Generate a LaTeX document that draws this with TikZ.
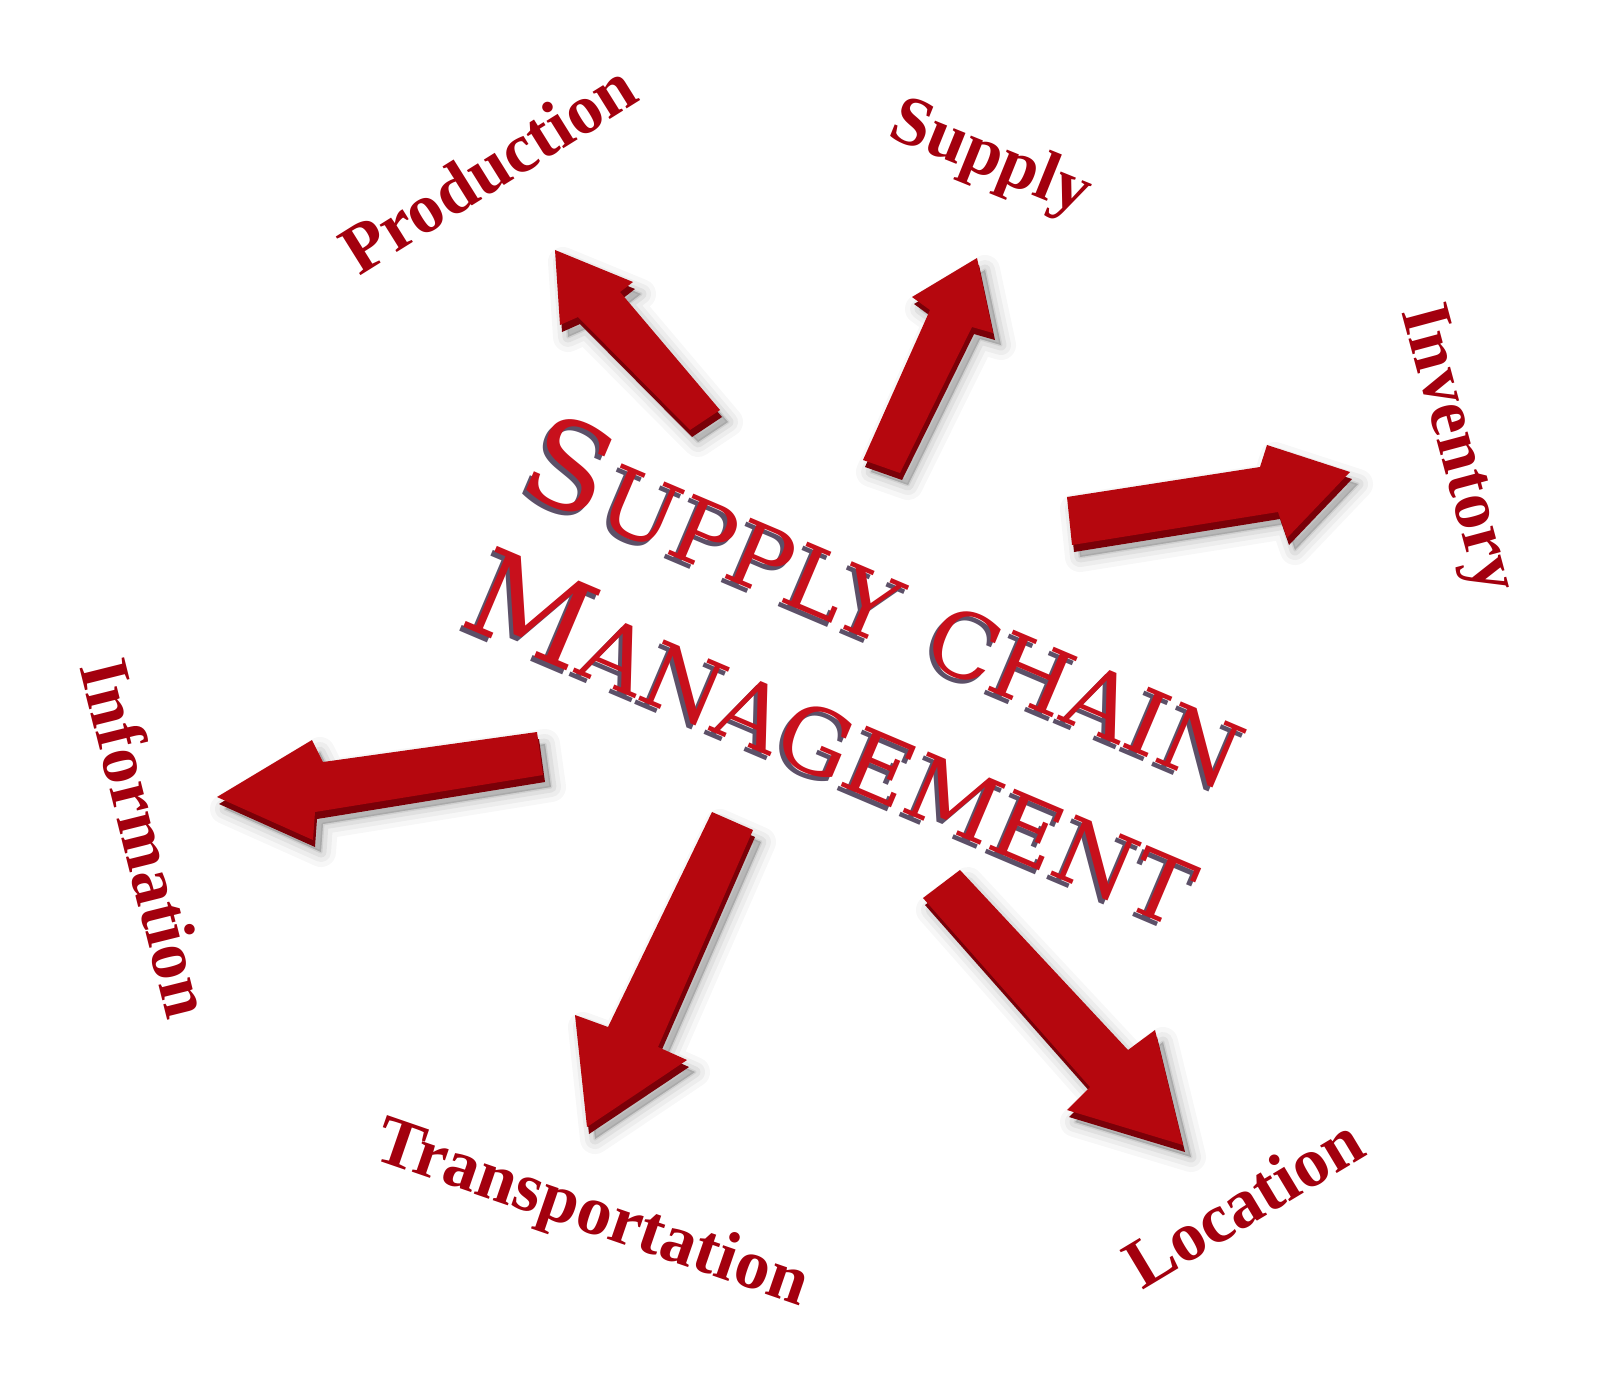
\documentclass[tikz,border=0pt]{standalone}
\usepackage{fontspec}
\setmainfont{Liberation Serif}
\newfontfamily\copperfont{DejaVu Serif}
\definecolor{arrowtop}{HTML}{B5070E}
\definecolor{arrowside}{HTML}{7A0008}
\definecolor{labelred}{HTML}{A3000E}
\definecolor{titlered}{HTML}{C8101C}
\definecolor{titleshadow}{HTML}{5C5068}
\newcommand{\redarrow}[7]{%
  \foreach \lw/\op in {30/0.03,20/0.04,11/0.05,3/0.07}{%
    \filldraw[black,opacity=\op,line width=\lw pt,line join=round,shift={(8,12)}] #1--#2--#3--#4--#5--#6--#7--cycle;}
  \fill[arrowside,shift={(2,7)}] #1--#2--#3--#4--#5--#6--#7--cycle;
  \fill[arrowtop] #1--#2--#3--#4--#5--#6--#7--cycle;
}
\newcommand{\scmtitle}{{\fontsize{120}{146}\selectfont S}UPPLY\hspace{38pt}CHAIN\\{\fontsize{120}{146}\selectfont M}ANAGEMENT}
\tikzset{
  lab/.style={text=labelred,font=\bfseries\fontsize{70}{70}\selectfont,inner sep=0pt},
  titlebox/.style={font=\copperfont\fontsize{90}{146}\selectfont,align=left,inner sep=0pt,transform shape}
}
\begin{document}
\begin{tikzpicture}[x=1pt,y=-1pt]
\useasboundingbox (0,0) rectangle (1600,1377);
\fill[white] (0,0) rectangle (1600,1377);
% arrows
\redarrow{(690,430)}{(578,317)}{(560,325)}{(555,250)}{(633,282)}{(620,292)}{(720,410)}
\redarrow{(863,460)}{(930,310)}{(912,297)}{(977,258)}{(993,333)}{(972,327)}{(900,473)}
\redarrow{(1067,497)}{(1260,467)}{(1267,445)}{(1350,472)}{(1287,538)}{(1278,512)}{(1072,545)}
\redarrow{(537,732)}{(323,762)}{(312,740)}{(217,797)}{(313,840)}{(315,812)}{(543,775)}
\redarrow{(712,812)}{(608,1027)}{(575,1015)}{(587,1127)}{(687,1060)}{(658,1047)}{(753,830)}
\redarrow{(923,898)}{(1090,1087)}{(1067,1110)}{(1183,1145)}{(1155,1030)}{(1128,1050)}{(960,870)}
% title
\begin{scope}[shift={(859,673)},rotate=-23,xscale=1.02]
  \node[titlebox,text=titleshadow] (titleshadow) at (0,0) {\scmtitle};
\end{scope}
\begin{scope}[shift={(863,669)},rotate=-23,xscale=1.02]
  \node[titlebox,text=titlered] (title) at (0,0) {\scmtitle};
\end{scope}
% labels
\node[lab,rotate=32] (production) at (488,168) {Production};
\node[lab,rotate=-22] (supply) at (990,160) {Supply};
\node[lab,rotate=-75] (inventory) at (1455,450) {Inventory};
\node[lab,rotate=-76] (information) at (147,838) {Information};
\node[lab,rotate=-19] (transportation) at (591,1216) {Transportation};
\node[lab,rotate=31] (location) at (1243,1202) {Location};
\end{tikzpicture}
\end{document}
